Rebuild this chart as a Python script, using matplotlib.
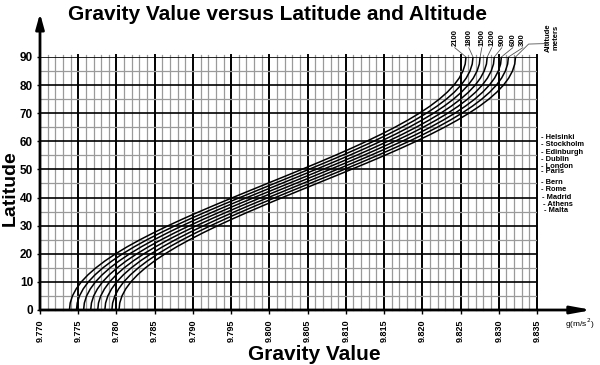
import numpy as np
import matplotlib
matplotlib.use("Agg")
import matplotlib.pyplot as plt

plt.rcParams['font.family'] = ['Liberation Sans', 'DejaVu Sans']

# sea-level gravity (m/s^2) read along latitude
latitudes = [0, 2.5, 5, 7.5, 10, 12.5, 15, 17.5, 20, 22.5, 25, 27.5, 30, 32.5,
             35, 37.5, 40, 42.5, 45, 47.5, 50, 52.5, 55, 57.5, 60, 62.5, 65,
             67.5, 70, 72.5, 75, 77.5, 80, 82.5, 85, 87.5, 90]
g_sea = [9.78033, 9.78043, 9.78072, 9.78121, 9.78188, 9.78275, 9.78379,
         9.78500, 9.78637, 9.78789, 9.78956, 9.79135, 9.79325, 9.79525,
         9.79734, 9.79949, 9.80170, 9.80394, 9.80620, 9.80846, 9.81070,
         9.81292, 9.81508, 9.81717, 9.81918, 9.82109, 9.82289, 9.82456,
         9.82610, 9.82748, 9.82870, 9.82975, 9.83062, 9.83130, 9.83179,
         9.83209, 9.83219]

# altitude curves: gravity at the equator for each altitude
altitudes = [0, 300, 600, 900, 1200, 1500, 1800, 2100]
g_equator = [9.78033, 9.77940, 9.77848, 9.77755, 9.77663, 9.77570, 9.77477, 9.77385]

# label positions above the plot (2100 ... 300)
alt_labels = ["2100", "1800", "1500", "1200", "900", "600", "300"]
alt_label_x = [9.82425, 9.82608, 9.82778, 9.82908, 9.83039, 9.83183, 9.83314]

cities = ["Helsinki", "Stockholm", "Edinburgh", "Dublin", "London", "Paris",
          "Bern", "Rome", "Madrid", "Athens", "Malta"]
city_lat = [61.3, 59.0, 55.9, 53.7, 51.2, 49.1, 45.5, 42.7, 39.9, 37.5, 35.3]
city_indent = [0, 0, 0, 0, 0, 0, 0, 0, 1, 1.5, 2]

x_ticks = [9.770, 9.775, 9.780, 9.785, 9.790, 9.795, 9.800, 9.805, 9.810,
           9.815, 9.820, 9.825, 9.830, 9.835]
y_ticks = [0, 10, 20, 30, 40, 50, 60, 70, 80, 90]

fig = plt.figure(figsize=(6, 3.65), dpi=100)
ax = fig.add_axes([40 / 600, 55 / 365, 497 / 600, 253 / 365])
ax.set_xlim(9.770, 9.835)
ax.set_ylim(0, 90)

# grid
for xv in np.arange(9.770, 9.8351, 0.001):
    major = abs(round(xv * 1000) % 5) == 0
    ax.plot([xv, xv], [0, 90.8], color='black' if major else '#9a9a9a',
            lw=1.4 if major else 0.9, zorder=1, clip_on=False)
for yv in range(0, 91, 5):
    major = yv % 10 == 0
    ax.plot([9.770, 9.835], [yv, yv], color='black' if major else '#9a9a9a',
            lw=1.2 if major else 0.9, zorder=1)

# curves
g_sea_arr = np.array(g_sea)
for alt, g0 in zip(altitudes, g_equator):
    ax.plot(g_sea_arr - (g_sea[0] - g0), latitudes, color='black', lw=1.1, zorder=3)

# altitude labels with leader lines
for lab, lx, g0 in zip(alt_labels, alt_label_x, g_equator[::-1]):
    top_x = g_sea[-1] - (g_sea[0] - g0)
    ax.plot([lx, top_x], [93.3, 90], color='#555555', lw=0.6, clip_on=False)
    ax.text(lx, 93.8, lab, rotation=90, fontsize=5.5,
            fontweight='bold', ha='center', va='bottom', clip_on=False)
top0 = g_sea[-1]
ax.plot([top0, 9.8339, 9.8364], [90, 94.6, 94.8], color='#555555', lw=0.6,
        clip_on=False)
ax.text(9.8370, 97, "Altitude\nmeters", rotation=90, fontsize=5.5,
        fontweight='bold', ha='center', va='center', linespacing=1.0, clip_on=False)

# city labels
for name, lat, ind in zip(cities, city_lat, city_indent):
    ax.text(9.8355 + ind * 0.0002, lat, "- " + name, fontsize=5.4,
            fontweight='bold', ha='left', va='center', clip_on=False)

# axes with arrows
for s in ax.spines.values():
    s.set_visible(False)
ax.annotate('', xy=(9.770, 105.5), xytext=(9.770, 0), xycoords='data',
            arrowprops=dict(arrowstyle='-|>,head_length=0.9,head_width=0.25',
                            color='black', lw=2, shrinkA=0, shrinkB=0),
            annotation_clip=False)
ax.annotate('', xy=(9.8422, 0), xytext=(9.770, 0), xycoords='data',
            arrowprops=dict(arrowstyle='-|>,head_length=1.2,head_width=0.22',
                            color='black', lw=2, shrinkA=0, shrinkB=0),
            annotation_clip=False)

ax.set_xticks(x_ticks)
ax.set_xticklabels([f"{v:.3f}" for v in x_ticks], rotation=90, fontsize=6.5,
                   fontweight='bold')
ax.set_yticks(y_ticks)
ax.set_yticklabels([str(v) for v in y_ticks], fontsize=8.5, fontweight='bold')
ax.tick_params(axis='x', length=3, width=1, pad=4)
ax.tick_params(axis='y', length=2, width=1, pad=3)

ax.text(9.8406, -2.5, "g(m/s$^{2}$)", fontsize=6, ha='center', va='top',
        clip_on=False)

fig.text(277 / 600, 1 - 14 / 365, "Gravity Value versus Latitude and Altitude",
         fontsize=15, fontweight='bold', ha='center', va='center')
fig.text(314 / 600, 1 - 355 / 365, "Gravity Value", fontsize=15,
         fontweight='bold', ha='center', va='center')
fig.text(10 / 600, 1 - 188 / 365, "Latitude", fontsize=14, fontweight='bold',
         rotation=90, ha='center', va='center')

fig.savefig("out.png", dpi=100)
